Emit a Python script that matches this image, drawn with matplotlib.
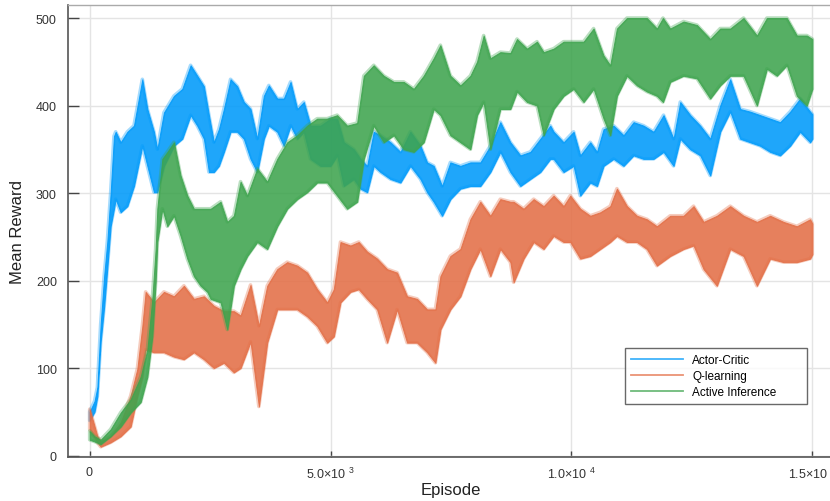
import matplotlib
matplotlib.use("Agg")
import matplotlib.pyplot as plt
from matplotlib.lines import Line2D

plt.rcParams["font.family"] = ["Liberation Sans", "DejaVu Sans"]
plt.rcParams["mathtext.fontset"] = "custom"
plt.rcParams["mathtext.rm"] = "Liberation Sans"
plt.rcParams["mathtext.it"] = "Liberation Sans"

# Reward band per method: episode, lower and upper extent of the running mean
ac_ep = [0, 100, 160, 228, 300, 367, 435, 504, 540, 643, 782, 919, 1093, 1197, 1334, 1404,
         1541, 1749, 1922, 2095, 2233, 2371, 2475, 2578, 2682, 2786, 2924, 3063, 3200, 3339,
         3478, 3615, 3719, 3893, 4030, 4170, 4308, 4445, 4584, 4791, 4998, 5137, 5274, 5482,
         5620, 5759, 5896, 6035, 6243, 6450, 6657, 6865, 7004, 7141, 7315, 7487, 7695, 7902,
         8109, 8317, 8524, 8732, 8940, 9146, 9354, 9561, 9630, 9837, 10045, 10183, 10391,
         10530, 10667, 10875, 11082, 11290, 11497, 11705, 11912, 12120, 12259, 12466, 12673,
         12881, 13088, 13296, 13503, 13710, 13918, 14125, 14332, 14540, 14747, 14955, 15000]
ac_lo = [40, 50, 68, 130, 170, 215, 262, 282, 293, 278, 285, 308, 354, 331, 301, 301,
         331, 354, 362, 389, 377, 362, 324, 324, 331, 347, 370, 370, 362, 339,
         324, 362, 377, 370, 354, 377, 362, 370, 339, 331, 331, 343, 308, 316,
         305, 301, 331, 324, 316, 312, 331, 316, 301, 290, 274, 293, 305, 308,
         308, 324, 347, 324, 308, 316, 324, 339, 339, 324, 331, 297, 312,
         308, 331, 339, 331, 343, 339, 339, 347, 331, 362, 350, 343,
         320, 370, 393, 362, 358, 354, 347, 343, 354, 370, 358, 362]
ac_hi = [50, 62, 78, 150, 205, 245, 300, 365, 370, 358, 370, 377, 430, 396, 370, 350,
         392, 411, 419, 446, 434, 422, 389, 358, 373, 396, 430, 422, 404, 396,
         362, 411, 423, 408, 408, 427, 396, 404, 377, 377, 385, 385, 358, 350,
         339, 331, 370, 366, 358, 347, 370, 354, 335, 331, 308, 335, 331, 335,
         335, 354, 381, 358, 343, 347, 362, 377, 370, 358, 370, 343, 358,
         347, 373, 377, 366, 381, 377, 370, 389, 362, 404, 389, 377,
         362, 400, 430, 396, 393, 389, 385, 381, 393, 408, 393, 390]

ql_ep = [0, 160, 228, 435, 643, 850, 989, 1093, 1161, 1334, 1541, 1749, 1956, 2163, 2371,
         2578, 2786, 2993, 3132, 3339, 3512, 3685, 3893, 4100, 4308, 4515, 4722, 4930, 5067,
         5206, 5413, 5585, 5759, 5966, 6174, 6381, 6588, 6796, 7004, 7176, 7280, 7487, 7695,
         7902, 8109, 8317, 8524, 8732, 8800, 9007, 9215, 9423, 9630, 9837, 9976, 10183,
         10391, 10598, 10805, 10944, 11152, 11359, 11566, 11774, 12050, 12327, 12535, 12743,
         13019, 13296, 13572, 13850, 14125, 14402, 14679, 14955, 15000]
ql_lo = [30, 15, 10, 15, 22, 33, 68, 90, 121, 118, 118, 113, 110, 118, 110,
         100, 106, 95, 100, 130, 56, 129, 167, 167, 167, 159, 148, 129, 136,
         175, 187, 190, 179, 167, 129, 167, 129, 129, 118, 106, 144, 167, 182,
         213, 236, 205, 236, 221, 198, 225, 244, 236, 251, 244, 244, 225,
         228, 236, 244, 251, 244, 244, 236, 217, 228, 236, 240, 213,
         194, 236, 228, 194, 225, 221, 221, 225, 230]
ql_hi = [53, 22, 16, 22, 38, 68, 99, 148, 187, 175, 187, 182, 194, 179, 182,
         171, 165, 165, 160, 195, 148, 194, 213, 221, 217, 209, 190, 175, 190,
         244, 240, 244, 233, 225, 213, 209, 182, 179, 167, 167, 205, 228, 236,
         270, 290, 274, 293, 290, 290, 282, 293, 285, 297, 285, 297, 282,
         274, 278, 285, 305, 285, 274, 270, 262, 274, 274, 285, 267,
         274, 285, 274, 267, 274, 267, 262, 270, 265]

ai_ep = [0, 100, 228, 435, 643, 850, 1058, 1197, 1300, 1369, 1404, 1508, 1612, 1749, 1887,
         2026, 2163, 2302, 2441, 2510, 2717, 2856, 2993, 3132, 3271, 3478, 3685, 3893, 4100,
         4308, 4515, 4722, 4930, 5137, 5344, 5552, 5690, 5896, 6104, 6312, 6519, 6726, 6933,
         7141, 7280, 7487, 7695, 7902, 8040, 8178, 8317, 8524, 8732, 8870, 9078, 9285, 9423,
         9630, 9837, 10045, 10252, 10460, 10667, 10805, 10944, 11152, 11359, 11566, 11774,
         11900, 12050, 12327, 12605, 12881, 13088, 13296, 13572, 13850, 14057, 14264, 14471,
         14679, 14886, 15000]
ai_lo = [18, 16, 13, 22, 33, 49, 61, 90, 136, 198, 244, 282, 262, 274, 251,
         225, 205, 194, 187, 179, 175, 144, 194, 213, 228, 244, 236, 262, 282,
         293, 301, 312, 312, 297, 282, 290, 339, 377, 358, 366, 350, 347, 358,
         396, 389, 366, 358, 350, 389, 404, 350, 396, 396, 416, 404, 400, 366,
         396, 411, 419, 404, 419, 385, 366, 411, 434, 423, 416, 411,
         404, 427, 434, 431, 408, 423, 434, 434, 400, 442, 434, 446,
         411, 400, 419]
ai_hi = [28, 22, 18, 30, 49, 64, 90, 121, 179, 236, 282, 339, 347, 358, 320,
         297, 282, 282, 282, 282, 290, 267, 274, 313, 297, 328, 313, 339, 358,
         366, 377, 385, 385, 389, 377, 380, 434, 446, 434, 427, 427, 419, 434,
         454, 469, 434, 423, 434, 450, 480, 454, 461, 460, 476, 465, 473, 461,
         465, 473, 473, 473, 488, 457, 446, 488, 500, 500, 500, 488,
         500, 488, 496, 492, 476, 488, 488, 500, 480, 500, 500, 500,
         480, 480, 476]

labels = ["Actor-Critic", "Q-learning", "Active Inference"]
colors = ["#009AFA", "#E36F47", "#3EA44E"]

x_ticks = [0, 5000, 10000, 15000]
x_tick_labels = ["$0$", r"$5.0{\times}10^{\;\;3}$", r"$1.0{\times}10^{\;\;4}$",
                 r"$1.5{\times}10^{\;\;4}$"]
y_ticks = [0, 100, 200, 300, 400, 500]

W, H = 830, 502
fig = plt.figure(figsize=(W / 100, H / 100), dpi=100)
ax = fig.add_axes([68 / W, (H - 458) / H, (834 - 68) / W, (458 - 6) / H])

series = [(ac_ep, ac_lo, ac_hi), (ql_ep, ql_lo, ql_hi), (ai_ep, ai_lo, ai_hi)]
for (ep, lo, hi), c in zip(series, colors):
    # soft fringe around each band, then the dense core
    ax.fill_between(ep, lo, hi, facecolor="none", edgecolor=c, alpha=0.35,
                    linewidth=2.6, zorder=3)
    ax.fill_between(ep, lo, hi, color=c, alpha=0.88, linewidth=0.7, edgecolor=c, zorder=3)

ax.set_xlim(-450, 15450)
ax.set_ylim(-1.7, 514.9)

ax.set_xticks(x_ticks)
ax.set_xticklabels(x_tick_labels)
ax.set_yticks(y_ticks)
ax.set_yticklabels([str(v) for v in y_ticks])

ax.grid(True, color="#e4e4e4", linewidth=1.0, zorder=0)
ax.set_axisbelow(True)

ax.tick_params(axis="y", direction="in", length=8, width=1.0, color="#444444",
               labelsize=9, labelcolor="#333333", pad=8)
ax.tick_params(axis="x", direction="in", length=4.5, width=1.0, color="#444444",
               labelsize=9, labelcolor="#333333", pad=6)

for side in ("left", "bottom"):
    ax.spines[side].set_color("#555555")
    ax.spines[side].set_linewidth(1.2)
ax.spines["top"].set_color("#aaaaaa")
ax.spines["top"].set_linewidth(1.0)
ax.spines["right"].set_color("#aaaaaa")

ax.set_xlabel("Episode", fontsize=12, color="#222222", labelpad=1)
ax.set_ylabel("Mean Reward", fontsize=12, color="#222222", labelpad=8)

handles = [Line2D([0], [0], color=c, lw=1.3, alpha=0.75) for c in colors]
leg = ax.legend(handles, labels, loc="lower left", bbox_to_anchor=(0.727, 0.117, 0.238, 0.146),
                mode="expand", fontsize=8.5, frameon=True, fancybox=False,
                edgecolor="#444444", borderpad=0.5, handlelength=4.4, handletextpad=0.8,
                labelspacing=0.35, borderaxespad=0)
leg.get_frame().set_linewidth(1.0)
leg.set_zorder(5)

fig.savefig("out.png", dpi=100)
